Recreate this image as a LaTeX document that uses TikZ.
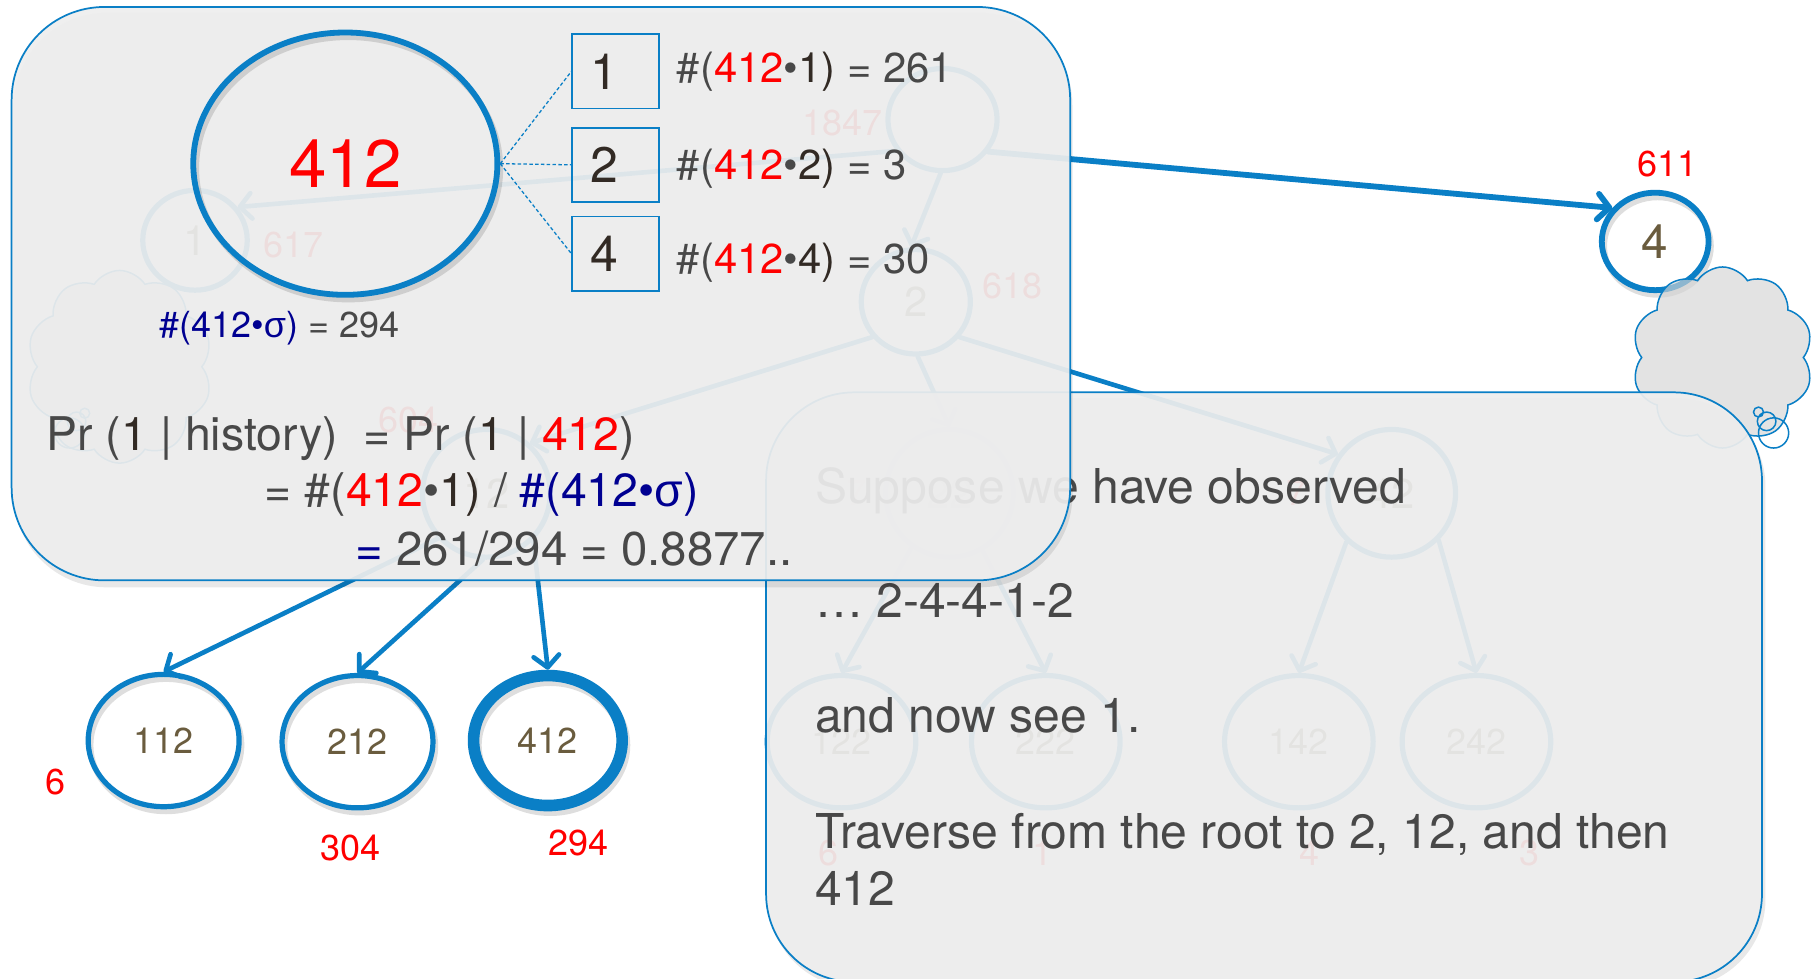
\documentclass[tikz,border=0pt]{standalone}
\usepackage{fontspec}
\setmainfont{TeX Gyre Heros}
\newfontfamily\grk{Liberation Sans}
\usetikzlibrary{shapes.geometric,shapes.symbols,arrows.meta}

\definecolor{treeblue}{RGB}{10,127,198}
\definecolor{panelfill}{RGB}{238,238,238}
\definecolor{bodytext}{RGB}{72,72,72}
\definecolor{darkdigit}{RGB}{50,42,36}
\definecolor{countred}{RGB}{255,0,0}
\definecolor{sigmablue}{RGB}{0,0,145}
\definecolor{labelbrown}{RGB}{106,92,62}
\definecolor{cloudfill}{RGB}{212,212,212}

\newcommand{\fsz}[1]{\fontsize{#1}{#1}\selectfont}
\newcommand{\rd}[1]{\textcolor{countred}{#1}}
\newcommand{\nv}[1]{\textcolor{sigmablue}{#1}}
\newcommand{\dk}[1]{\textcolor{darkdigit}{#1}}
\newcommand{\sg}{{\grk σ}}

\begin{document}
\begin{tikzpicture}[x=1pt, y=-1pt,
  tnode/.style={ellipse, draw=treeblue, line width=4.5pt, inner sep=0pt,
    text=labelbrown, font=\fsz{31}},
  edge/.style={draw=treeblue, line width=4pt, line cap=round,
    -{Straight Barb[length=10pt, width=22pt, line join=round, line cap=round]}},
  count/.style={text=countred, font=\fsz{31}, inner sep=0pt},
  thought/.style={cloud, cloud puffs=10, cloud puff arc=115, cloud ignores aspect,
    draw=treeblue, line width=1.3pt, fill=cloudfill, fill opacity=0.65, inner sep=0pt},
  bubble/.style={draw=treeblue, line width=1.3pt},
  ringshade/.style={draw=black, opacity=0.13},
  panel/.style={draw=treeblue, line width=1.5pt, fill=panelfill, fill opacity=0.93},
  shade/.style={fill=black, opacity=0.09},
  ptext/.style={anchor=base west, inner sep=0pt, font=\fsz{41.4}, text=bodytext},
  ftext/.style={anchor=base west, inner sep=0pt, text=bodytext},
  cbox/.style={draw=treeblue, line width=1.5pt, minimum width=75, minimum height=64, inner sep=0pt},
  boxdigit/.style={inner sep=0pt, font=\fsz{43}, text=darkdigit},
  dashline/.style={draw=treeblue, line width=1.1pt, dash pattern=on 3pt off 2pt},
  bigring/.style={ellipse, draw=treeblue, line width=5pt, inner sep=0pt,
    minimum width=262, minimum height=226, font=\fsz{58}}
]
\useasboundingbox (0,0) rectangle (1568,843);
\fill[white] (0,0) rectangle (1568,843);

% soft shadows under the visible rings
\draw[ringshade, line width=5pt] (143,642) ellipse [x radius=65pt, y radius=57pt];
\draw[ringshade, line width=5pt] (310,643) ellipse [x radius=65pt, y radius=57pt];
\draw[ringshade, line width=10pt] (474,642) ellipse [x radius=64pt, y radius=56pt];
\draw[ringshade, line width=5pt] (1428,212) ellipse [x radius=46pt, y radius=42pt];

% ---------- the context tree ----------
\node[tnode, minimum width=94, minimum height=88] (root) at (812,103) {};
\node[tnode, minimum width=90, minimum height=86, font=\fsz{36}] (n1) at (168,207) {1};
\node[tnode, minimum width=94, minimum height=90, font=\fsz{36}] (n2) at (789,260) {2};
\node[tnode, minimum width=92, minimum height=84, line width=5pt, font=\fsz{41}] (n4) at (1426,208) {4};
\node[tnode, minimum width=110, minimum height=110, font=\fsz{36}] (n12) at (419,425) {12};
\node[tnode, minimum width=110, minimum height=110, font=\fsz{36}] (n22) at (818,425) {22};
\node[tnode, minimum width=110, minimum height=110, font=\fsz{36}] (n42) at (1199,425) {42};
\node[tnode, minimum width=130, minimum height=114] (n112) at (141,638) {112};
\node[tnode, minimum width=130, minimum height=114] (n212) at (308,639) {212};
\node[tnode, minimum width=128, minimum height=112, line width=10pt] (n412) at (472,638) {412};
\node[tnode, minimum width=128, minimum height=114] (n122) at (725,639) {122};
\node[tnode, minimum width=128, minimum height=114] (n222) at (901,639) {222};
\node[tnode, minimum width=128, minimum height=114] (n142) at (1119,639) {142};
\node[tnode, minimum width=128, minimum height=114] (n242) at (1272,639) {242};

\draw[edge] (root.214) -- (n1.38);
\draw[edge] (root.268) -- (n2.95);
\draw[edge, line width=5pt] (root.-35) -- (n4.142);
\draw[edge] (n2.219) -- (n12.49);
\draw[edge] (n2.272) -- (n22.north);
\draw[edge] (n2.321) -- (n42.144);
\draw[edge] (n12.223) -- (n112.north);
\draw[edge] (n12.267) -- (n212.north);
\draw[edge] (n12.315) -- (n412.north);
\draw[edge] (n22.235) -- (n122.north);
\draw[edge] (n22.300) -- (n222.north);
\draw[edge] (n42.227) -- (n142.north);
\draw[edge] (n42.315) -- (n242.north);

% occurrence counts
\node[count] (c0) at (726,106) {1847};
\node[count] (c1) at (253,211) {617};
\node[count] (c2) at (872,246) {618};
\node[count] (c4) at (1437,141) {611};
\node[count] (c12) at (352,362) {604};
\node[count] (c22) at (738,425) {7};
\node[count] (c42) at (1117,425) {7};
\node[count] (c112) at (48,674) {6};
\node[count] (c212) at (302,731) {304};
\node[count] (c412) at (498,726) {294};
\node[count] (c122) at (714,735) {6};
\node[count] (c222) at (898,735) {1};
\node[count] (c142) at (1128,735) {4};
\node[count] (c242) at (1318,735) {3};

% thought clouds
\node[thought, minimum width=160, minimum height=166] (cl1) at (103,316) {};
\draw[bubble] (73,356) circle (4.3pt) (66,363) circle (8pt) (60,373) circle (13pt);
\node[thought, minimum width=156, minimum height=156] (cl4) at (1484,308) {};
\draw[bubble] (1515,355) circle (4.3pt) (1522,363) circle (8pt) (1528,373) circle (13pt);

% ---------- explanation panel ----------
\fill[shade, rounded corners=76pt] (662,343) rectangle (1521,851);
\draw[panel, rounded corners=76pt] (660,338) rectangle (1518,846);
\node[ptext] (s1) at (702,434) {Suppose we have observed};
\node[ptext] (s2) at (702,532) {… 2-4-4-1-2};
\node[ptext] (s3) at (702,631) {and now see 1.};
\node[ptext] (s4) at (702,731) {Traverse from the root to 2, 12, and then};
\node[ptext] (s5) at (702,780) {412};

% ---------- prediction panel ----------
\fill[shade, rounded corners=80pt] (12,11) rectangle (924,506);
\draw[panel, rounded corners=80pt] (10,6) rectangle (922,500);

\draw[ringshade, line width=5pt] (300,145) ellipse [x radius=131pt, y radius=113pt];
\node[bigring] (big) at (297.5,141) {\rd{412}};
\node[cbox] (b1) at (530.5,61.5) {};
\node[cbox] (b2) at (530.5,142) {};
\node[cbox] (b4) at (530.5,218.5) {};
\node[boxdigit] (d1) at ([xshift=-10pt]b1.center) {1};
\node[boxdigit] (d2) at ([xshift=-10pt]b2.center) {2};
\node[boxdigit] (d4) at ([xshift=-10pt]b4.center) {4};
\draw[dashline] (big.east) -- (b1.west);
\draw[dashline] (big.east) -- (b2.west);
\draw[dashline] (big.east) -- (b4.west);

\node[ftext, font=\fsz{36}] (t1) at (583,71) {\#(\rd{412}•\dk{1)} = 261};
\node[ftext, font=\fsz{36}] (t2) at (583,155) {\#(\rd{412}•\dk{2)} = 3};
\node[ftext, font=\fsz{36}] (t4) at (583,236) {\#(\rd{412}•\dk{4)} = 30};
\node[ftext, font=\fsz{31}] (tot) at (137,291) {\nv{\#(412•\sg)} = 294};

\node[ftext, font=\fsz{40}] (p1) at (40,388) {Pr (\dk{1} | history)\ \ = Pr (\dk{1} | \rd{412})};
\node[ftext, font=\fsz{40}] (p2) at (228,436.5) {= \#(\rd{412}•\dk{1)} / \nv{\#(412•\sg)}};
\node[ftext, font=\fsz{40.8}] (p3) at (306,487) {\nv{=} 261/294 = 0.8877..};
\end{tikzpicture}
\end{document}
